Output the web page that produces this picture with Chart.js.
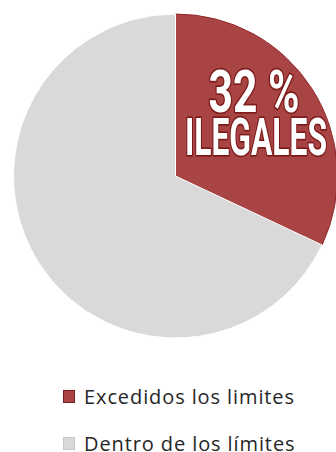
<!DOCTYPE html>
<html lang="es">
<head>
<meta charset="utf-8">
<script src="https://cdn.jsdelivr.net/npm/chart.js@4.4.1/dist/chart.umd.min.js"></script>
<style>
  html, body { margin: 0; padding: 0; background: #fff; overflow: hidden; }
  body { width: 336px; height: 452px; position: relative; }
  #wrap { position: absolute; left: 0; top: 0; width: 351px; height: 352px; }
  #legend { position: absolute; left: 63px; top: 373px; list-style: none; margin: 0; padding: 0;
    font-family: "Open Sans", sans-serif; font-size: 20px; letter-spacing: 0.9px; color: #262626; }
  #legend li { display: flex; align-items: center; height: 47px; }
  #legend span.box { width: 12px; height: 13px; margin-right: 9px; box-sizing: border-box; border: 1px solid; }
</style>
</head>
<body>
<div id="wrap"><canvas id="pieChart"></canvas></div>
<ul id="legend"></ul>
<script>
const categorias = ["Excedidos los limites", "Dentro de los límites"];
const valores = [32, 68];
const colores = ["#a94444", "#d9d9d9"];
const bordes = ["#93282a", "#ffffff"];

// Texto grande sobre la porción roja
const etiquetaPlugin = {
  id: "etiqueta",
  afterDatasetsDraw(chart) {
    const ctx = chart.ctx;
    const lineas = [
      { texto: `${valores[0]} %`, x: 254, y: 112, size: 60, ancho: 91 },
      { texto: "ILEGALES", x: 256, y: 155, size: 52, ancho: 142 },
    ];
    ctx.save();
    lineas.forEach((l) => {
      ctx.font = `bold ${l.size}px "Roboto", "Liberation Sans", sans-serif`;
      const w = ctx.measureText(l.texto).width;
      ctx.save();
      ctx.translate(l.x, l.y);
      ctx.scale(l.ancho / w, 1);
      ctx.textAlign = "center";
      ctx.textBaseline = "alphabetic";
      ctx.lineJoin = "round";
      ctx.lineWidth = 3.5;
      ctx.strokeStyle = "#7e1c1c";
      ctx.strokeText(l.texto, 0, 0);
      ctx.fillStyle = "#ffffff";
      ctx.fillText(l.texto, 0, 0);
      ctx.restore();
    });
    ctx.restore();
  },
};

const chart = new Chart(document.getElementById("pieChart"), {
  type: "pie",
  data: {
    labels: categorias,
    datasets: [
      {
        data: valores,
        backgroundColor: colores,
        borderColor: bordes,
        borderWidth: 1,
      },
    ],
  },
  options: {
    responsive: true,
    maintainAspectRatio: false,
    animation: false,
    layout: { padding: 13 },
    plugins: {
      legend: { display: false },
      tooltip: { enabled: false },
    },
  },
  plugins: [etiquetaPlugin],
});

// Leyenda en HTML a partir de los elementos del gráfico
const legend = document.getElementById("legend");
chart.options.plugins.legend.labels.generateLabels(chart).forEach((item, i) => {
  const li = document.createElement("li");
  const box = document.createElement("span");
  box.className = "box";
  box.style.background = item.fillStyle;
  box.style.borderColor = i === 0 ? "#7e1c1c" : "#c8c8c8";
  li.appendChild(box);
  li.appendChild(document.createTextNode(item.text));
  legend.appendChild(li);
});
</script>
</body>
</html>
